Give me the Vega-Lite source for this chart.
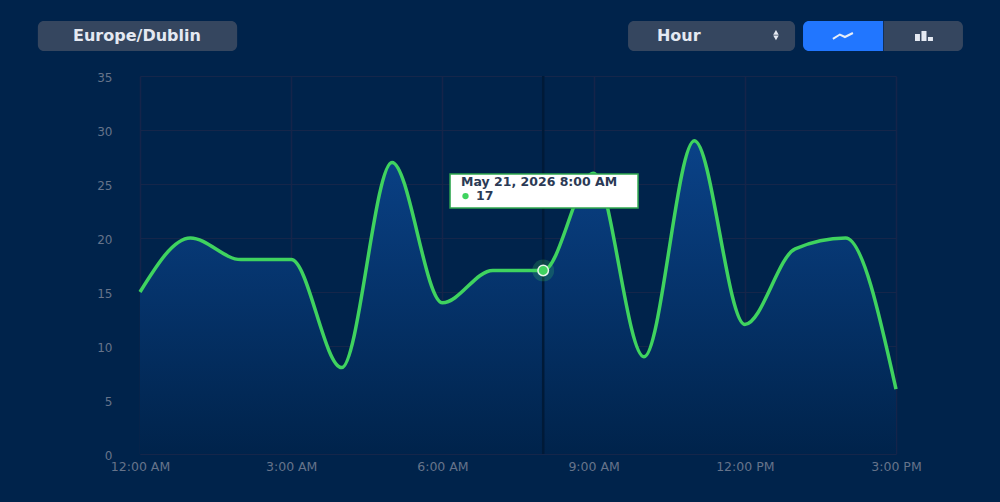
{
"$schema":"https://vega.github.io/schema/vega-lite/v6.json",
"autosize":{"type":"none"},
"width":756,"height":378,
"padding":{"left":140,"top":76,"right":104,"bottom":48},
"background":"#00234b",
"view":{"stroke":null},
"config":{"font":"DejaVu Sans"},
"datasets":{
"series":[
{"t":"2026-05-21T00:00:00Z","v":15},{"t":"2026-05-21T01:00:00Z","v":20},{"t":"2026-05-21T02:00:00Z","v":18},{"t":"2026-05-21T03:00:00Z","v":18},
{"t":"2026-05-21T04:00:00Z","v":8},{"t":"2026-05-21T05:00:00Z","v":27},{"t":"2026-05-21T06:00:00Z","v":14},{"t":"2026-05-21T07:00:00Z","v":17},
{"t":"2026-05-21T08:00:00Z","v":17},{"t":"2026-05-21T09:00:00Z","v":26},{"t":"2026-05-21T10:00:00Z","v":9},{"t":"2026-05-21T11:00:00Z","v":29},
{"t":"2026-05-21T12:00:00Z","v":12},{"t":"2026-05-21T13:00:00Z","v":19},{"t":"2026-05-21T14:00:00Z","v":20},{"t":"2026-05-21T15:00:00Z","v":6}],
"selected":[{"t":"2026-05-21T08:00:00Z","v":17}],
"buttons":[
{"a":"2026-05-20T21:58:24Z","b":"2026-05-21T01:55:38Z","top":40.09,"bot":37.31},
{"a":"2026-05-21T09:41:00Z","b":"2026-05-21T12:59:50Z","top":40.09,"bot":37.31}],
"activeButton":[{"a":"2026-05-21T13:09:18Z","b":"2026-05-21T14:44:36Z","top":40.09,"bot":37.31}],
"otherButton":[{"a":"2026-05-21T14:45:20Z","b":"2026-05-21T16:19:42Z","top":40.09,"bot":37.31}],
"iconBars":[
{"a":"2026-05-21T15:22:36Z","b":"2026-05-21T15:28:30Z","top":38.89,"bot":38.24},
{"a":"2026-05-21T15:30:18Z","b":"2026-05-21T15:36:18Z","top":39.17,"bot":38.24},
{"a":"2026-05-21T15:38:00Z","b":"2026-05-21T15:44:00Z","top":38.61,"bot":38.24}],
"iconLine":[
{"t":"2026-05-21T13:44:54Z","v":38.43},{"t":"2026-05-21T13:53:12Z","v":38.84},{"t":"2026-05-21T13:59:12Z","v":38.61},{"t":"2026-05-21T14:08:42Z","v":38.98}],
"arrowUp":[{"t":"2026-05-21T12:37:06Z","v":39.03}],
"arrowDown":[{"t":"2026-05-21T12:37:06Z","v":38.52}],
"tipBox":[{"a":"2026-05-21T06:09:06Z","b":"2026-05-21T09:52:54Z","top":25.93,"bot":22.78}],
"tipDot":[{"t":"2026-05-21T06:27:30Z","v":23.88}]
},
"layer":[
{"data":{"name":"series"},"mark":{"type":"area","interpolate":"monotone","line":false,
"color":{"gradient":"linear","x1":0,"y1":0,"x2":0,"y2":1,"stops":[{"offset":0,"color":"#0a4288"},{"offset":1,"color":"#00234b"}]}},
"encoding":{
"x":{"field":"t","type":"temporal","title":null,
"scale":{"type":"utc","domain":["2026-05-21T00:00:00Z","2026-05-21T15:00:00Z"],"nice":false},
"axis":{"labelExpr":"utcFormat(datum.value,'%-I:%M %p')","values":["2026-05-21T00:00:00Z","2026-05-21T03:00:00Z","2026-05-21T06:00:00Z","2026-05-21T09:00:00Z","2026-05-21T12:00:00Z","2026-05-21T15:00:00Z"],
"grid":true,"gridColor":"#15244a","gridWidth":1.5,"domain":false,"ticks":false,"labelColor":"#66738a","labelFontSize":12.5,"labelPadding":6,"labelAngle":0,"labelFlush":false}},
"y":{"field":"v","type":"quantitative","title":null,
"scale":{"domain":[0,35],"nice":false},
"axis":{"values":[0,5,10,15,20,25,30,35],"grid":true,"gridColor":"#15264a","gridWidth":1,"domain":false,"ticks":false,"labelColor":"#66738a","labelFontSize":12,"labelPadding":28,"labelOffset":1}}
}},
{"data":{"name":"series"},"mark":{"type":"line","interpolate":"monotone","color":"#3fd35f","strokeWidth":3.5},
"encoding":{"x":{"field":"t","type":"temporal"},"y":{"field":"v","type":"quantitative"}}},
{"data":{"name":"selected"},"mark":{"type":"rule","color":"#001a38","strokeWidth":2.5},
"encoding":{"x":{"field":"t","type":"temporal"}}},
{"data":{"name":"selected"},"mark":{"type":"point","filled":true,"size":480,"color":"#3fd35f","opacity":0.22},
"encoding":{"x":{"field":"t","type":"temporal"},"y":{"field":"v","type":"quantitative"}}},
{"data":{"name":"selected"},"mark":{"type":"point","filled":true,"size":110,"fill":"#3fd35f","stroke":"#e6f5ea","strokeWidth":1.5,"opacity":1},
"encoding":{"x":{"field":"t","type":"temporal"},"y":{"field":"v","type":"quantitative"}}},
{"data":{"name":"tipBox"},"mark":{"type":"rect","fill":"#ffffff","stroke":"#2fa84f","strokeWidth":1.5},
"encoding":{"x":{"field":"a","type":"temporal"},"x2":{"field":"b"},"y":{"field":"top","type":"quantitative"},"y2":{"field":"bot"}}},
{"data":{"values":[{"t":"2026-05-21T06:22:12Z","v":25.2,"label":"May 21, 2026 8:00 AM"},{"t":"2026-05-21T06:40:00Z","v":23.88,"label":"17"}]},
"mark":{"type":"text","align":"left","baseline":"middle","fontSize":12.5,"fontWeight":"bold","color":"#2b3a55"},
"encoding":{"x":{"field":"t","type":"temporal"},"y":{"field":"v","type":"quantitative"},"text":{"field":"label"}}},
{"data":{"name":"tipDot"},"mark":{"type":"point","filled":true,"size":40,"color":"#3fd35f","opacity":1},
"encoding":{"x":{"field":"t","type":"temporal"},"y":{"field":"v","type":"quantitative"}}},
{"data":{"name":"buttons"},"mark":{"type":"rect","cornerRadius":6,"fill":"#35465f"},
"encoding":{"x":{"field":"a","type":"temporal"},"x2":{"field":"b"},"y":{"field":"top","type":"quantitative"},"y2":{"field":"bot"}}},
{"data":{"name":"activeButton"},"mark":{"type":"rect","cornerRadiusTopLeft":6,"cornerRadiusBottomLeft":6,"fill":"#2176ff"},
"encoding":{"x":{"field":"a","type":"temporal"},"x2":{"field":"b"},"y":{"field":"top","type":"quantitative"},"y2":{"field":"bot"}}},
{"data":{"name":"otherButton"},"mark":{"type":"rect","cornerRadiusTopRight":6,"cornerRadiusBottomRight":6,"fill":"#35465f"},
"encoding":{"x":{"field":"a","type":"temporal"},"x2":{"field":"b"},"y":{"field":"top","type":"quantitative"},"y2":{"field":"bot"}}},
{"data":{"values":[{"t":"2026-05-20T23:56:24Z","v":38.72,"label":"Europe/Dublin"}]},
"mark":{"type":"text","align":"center","baseline":"middle","fontSize":16,"fontWeight":"bold","color":"#e4e9f2"},
"encoding":{"x":{"field":"t","type":"temporal"},"y":{"field":"v","type":"quantitative"},"text":{"field":"label"}}},
{"data":{"values":[{"t":"2026-05-21T10:15:24Z","v":38.72,"label":"Hour"}]},
"mark":{"type":"text","align":"left","baseline":"middle","fontSize":16,"fontWeight":"bold","color":"#e4e9f2"},
"encoding":{"x":{"field":"t","type":"temporal"},"y":{"field":"v","type":"quantitative"},"text":{"field":"label"}}},
{"data":{"name":"arrowUp"},"mark":{"type":"point","shape":"triangle-up","filled":true,"size":30,"color":"#e4e9f2","opacity":1},
"encoding":{"x":{"field":"t","type":"temporal"},"y":{"field":"v","type":"quantitative"}}},
{"data":{"name":"arrowDown"},"mark":{"type":"point","shape":"triangle-down","filled":true,"size":30,"color":"#e4e9f2","opacity":1},
"encoding":{"x":{"field":"t","type":"temporal"},"y":{"field":"v","type":"quantitative"}}},
{"data":{"name":"iconLine"},"mark":{"type":"line","color":"#e8eef8","strokeWidth":2},
"encoding":{"x":{"field":"t","type":"temporal"},"y":{"field":"v","type":"quantitative"}}},
{"data":{"name":"iconBars"},"mark":{"type":"rect","fill":"#e4e9f2"},
"encoding":{"x":{"field":"a","type":"temporal"},"x2":{"field":"b"},"y":{"field":"top","type":"quantitative"},"y2":{"field":"bot"}}}
]
}
